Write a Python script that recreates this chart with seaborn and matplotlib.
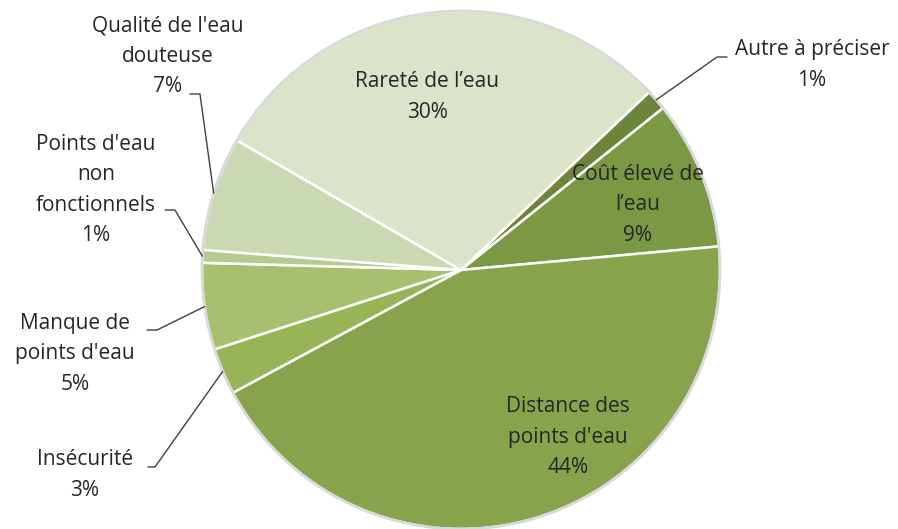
import matplotlib
matplotlib.use("Agg")
import matplotlib.pyplot as plt
import seaborn as sns
import numpy as np

# slice data, clockwise from the small dark slice at upper right
categories = ["Autre à préciser", "Coût élevé de\nl’eau", "Distance des\npoints d'eau",
              "Insécurité", "Manque de\npoints d'eau", "Points d'eau\nnon\nfonctionnels",
              "Qualité de l'eau\ndouteuse", "Rareté de l’eau"]
shares = [1.3, 9.3, 43.6, 2.9, 5.4, 0.8, 7.1, 29.6]
colors = ["#6b853a", "#7b9944", "#87a34c", "#97b556", "#a6c070", "#b5cc8e", "#cad9b1", "#d9e4c8"]

# label placement in pixels (centre of text); inside labels have no leader line
inside = {1: (638, 205), 2: (568, 437), 7: (427, 97)}
outside = {
    0: ((812, 65), (717, 57), (727, 57)),
    6: ((168, 56), (200, 94), (190, 94)),
    5: ((96, 190), (175, 210), (165, 210)),
    4: ((75, 354), (157, 330), (147, 330)),
    3: ((85, 475), (155, 467), (148, 467)),
}

W, H = 898, 529
cx, cy, R = 461, 270, 259

sns.set_theme(style="white")
plt.rcParams["font.family"] = ["Open Sans", "DejaVu Sans"]

fig = plt.figure(figsize=(W / 100, H / 100), dpi=100)
ax = fig.add_axes([0, 0, 1, 1])

wedges, _ = ax.pie(shares, colors=colors, startangle=43.4, counterclock=False,
                   wedgeprops=dict(edgecolor="white", linewidth=1.8))
ax.add_patch(plt.Circle((0, 0), 1.0, fill=False, edgecolor="#d9d9d9", linewidth=2))

ax.set_xlim(-cx / R, (W - cx) / R)
ax.set_ylim(-(H - cy) / R, cy / R)
ax.set_axis_off()


def px(p):
    return (p[0] - cx) / R, (cy - p[1]) / R


total = sum(shares)
labels = [f"{c}\n{round(v / total * 100):.0f}%" for c, v in zip(categories, shares)]
fs, ls = 15, 1.58

for i, w in enumerate(wedges):
    if i in inside:
        x, y = px(inside[i])
        ax.text(x, y, labels[i], ha="center", va="center", fontsize=fs,
                color="#262626", linespacing=ls)
    else:
        pos, elbow, end = outside[i]
        x, y = px(pos)
        ax.text(x, y, labels[i], ha="center", va="center", fontsize=fs,
                color="#262626", linespacing=ls)
        mid = np.deg2rad((w.theta1 + w.theta2) / 2)
        ex, ey = np.cos(mid), np.sin(mid)
        bx, by = px(elbow)
        tx, ty = px(end)
        ax.plot([ex, bx, tx], [ey, by, ty], color="#404040", linewidth=1)

fig.savefig("out.png", dpi=100)
